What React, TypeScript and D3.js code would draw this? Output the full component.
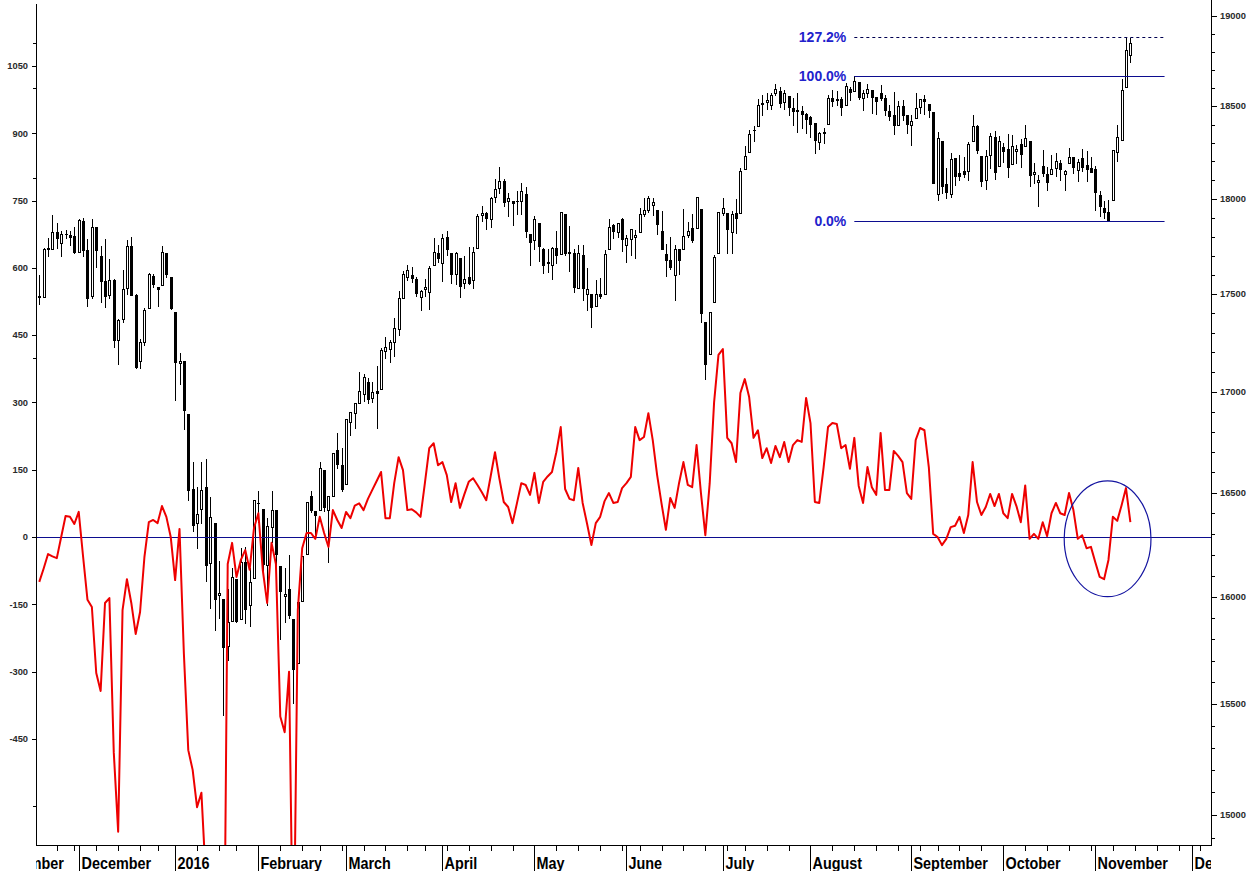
import { useMemo } from "react"
import * as d3 from "d3"

// [open, high, low, close] — Dow Jones daily candles, right (log) axis
type Candle = [number, number, number, number]

const nov2015: Candle[] = [
  [17486, 17600, 17447, 17489], [17486, 17740, 17486, 17737], [17739, 17790, 17700, 17732],
  [17733, 17914, 17733, 17824], [17823, 17870, 17740, 17792], [17765, 17830, 17697, 17813],
  [17813, 17836, 17790, 17813], [17806, 17830, 17754, 17798], [17802, 17850, 17715, 17720],
]
const dec2015: Candle[] = [
  [17719, 17895, 17719, 17888], [17883, 17900, 17700, 17730], [17730, 17789, 17440, 17478],
  [17490, 17895, 17480, 17848], [17848, 17848, 17640, 17730], [17700, 17750, 17460, 17568],
  [17568, 17785, 17435, 17492], [17493, 17680, 17480, 17575], [17575, 17580, 17230, 17265],
  [17265, 17370, 17139, 17368], [17370, 17627, 17357, 17524], [17530, 17784, 17500, 17750],
  [17750, 17796, 17493, 17495], [17494, 17500, 17120, 17128], [17154, 17270, 17120, 17251],
  [17253, 17430, 17239, 17418], [17427, 17608, 17427, 17603], [17593, 17606, 17534, 17552],
  [17535, 17536, 17437, 17528], [17547, 17750, 17547, 17720], [17711, 17714, 17588, 17603],
  [17590, 17590, 17421, 17425],
]
const jan2016: Candle[] = [
  [17405, 17405, 16957, 17149], [17147, 17195, 17038, 17158], [17155, 17155, 16817, 16907],
  [16889, 16889, 16463, 16515], [16519, 16651, 16314, 16346], [16355, 16526, 16232, 16399],
  [16419, 16651, 16355, 16516], [16527, 16668, 16075, 16151], [16159, 16482, 15945, 16380],
  [16355, 16355, 15842, 15988], [16010, 16171, 15900, 16016], [15990, 15990, 15450, 15766],
  [15768, 16038, 15704, 15882], [15885, 16135, 15885, 16094], [16086, 16086, 15880, 15886],
  [15893, 16235, 15893, 16167], [16168, 16237, 15878, 15944], [15960, 16136, 15863, 16069],
  [16090, 16466, 16090, 16466],
]
const feb2016: Candle[] = [
  [16451, 16510, 16359, 16449], [16420, 16420, 16115, 16154], [16153, 16377, 15960, 16337],
  [16332, 16510, 16260, 16417], [16417, 16417, 16125, 16205], [16146, 16146, 15803, 16027],
  [16005, 16136, 15881, 16014], [16035, 16201, 15899, 15914], [15897, 15897, 15503, 15660],
  [15691, 15974, 15691, 15974], [15978, 16196, 15978, 16196], [16202, 16454, 16202, 16454],
  [16483, 16511, 16408, 16414], [16410, 16410, 16283, 16392], [16417, 16650, 16417, 16620],
  [16610, 16610, 16410, 16432], [16418, 16485, 16165, 16485], [16485, 16698, 16485, 16698],
  [16712, 16795, 16623, 16640], [16634, 16718, 16510, 16517],
]
const mar2016: Candle[] = [
  [16545, 16866, 16545, 16865], [16851, 16900, 16783, 16899], [16896, 16944, 16820, 16943],
  [16945, 17099, 16945, 17006], [16991, 17093, 16956, 17074], [17050, 17072, 16945, 16965],
  [16969, 17048, 16947, 17001], [17006, 17131, 16821, 16995], [17014, 17220, 17014, 17213],
  [17207, 17279, 17174, 17229], [17217, 17262, 17150, 17251], [17251, 17376, 17184, 17326],
  [17321, 17515, 17289, 17481], [17481, 17620, 17481, 17602], [17590, 17651, 17570, 17624],
  [17601, 17640, 17560, 17582], [17580, 17590, 17490, 17503], [17485, 17520, 17417, 17516],
  [17526, 17580, 17490, 17536], [17512, 17646, 17422, 17634], [17651, 17790, 17651, 17717],
  [17716, 17755, 17668, 17685],
]
const apr2016: Candle[] = [
  [17661, 17813, 17568, 17793], [17799, 17828, 17701, 17737], [17715, 17715, 17556, 17603],
  [17605, 17717, 17551, 17716], [17688, 17688, 17484, 17542], [17555, 17700, 17530, 17577],
  [17586, 17745, 17553, 17556], [17572, 17744, 17533, 17721], [17741, 17918, 17741, 17908],
  [17912, 17961, 17880, 17926], [17925, 17928, 17842, 17897], [17890, 18009, 17848, 18004],
  [18012, 18104, 17984, 18053], [18059, 18168, 18033, 18096], [18094, 18107, 17963, 17982],
  [17990, 18031, 17909, 18003], [17990, 17990, 17860, 17977], [17987, 18043, 17920, 17990],
  [17990, 18084, 17920, 18041], [18023, 18064, 17796, 17831], [17813, 17814, 17651, 17773],
]
const may2016: Candle[] = [
  [17783, 17911, 17734, 17891], [17870, 17870, 17670, 17750], [17735, 17738, 17609, 17651],
  [17664, 17736, 17615, 17660], [17650, 17744, 17580, 17740], [17742, 17830, 17662, 17705],
  [17710, 17928, 17710, 17928], [17919, 17919, 17703, 17711], [17711, 17858, 17620, 17720],
  [17711, 17734, 17511, 17535], [17531, 17754, 17531, 17711], [17701, 17754, 17467, 17530],
  [17501, 17636, 17418, 17526], [17501, 17501, 17331, 17435], [17437, 17571, 17437, 17500],
  [17501, 17582, 17480, 17492], [17498, 17731, 17498, 17706], [17735, 17891, 17735, 17851],
  [17859, 17867, 17790, 17828], [17826, 17873, 17800, 17873], [17891, 17899, 17724, 17787],
]
const jun2016: Candle[] = [
  [17754, 17809, 17664, 17790], [17789, 17838, 17703, 17838], [17799, 17833, 17689, 17807],
  [17825, 17949, 17822, 17920], [17920, 18003, 17910, 17938], [17938, 18016, 17931, 18005],
  [17969, 18005, 17915, 17985], [17938, 17938, 17812, 17865], [17831, 17935, 17733, 17733],
  [17710, 17762, 17595, 17675], [17679, 17797, 17628, 17640], [17601, 17754, 17471, 17733],
  [17733, 17733, 17602, 17675], [17736, 17946, 17736, 17805], [17807, 17877, 17800, 17830],
  [17844, 17920, 17770, 17780], [17845, 18011, 17845, 18011], [17946, 17946, 17356, 17400],
  [17355, 17355, 17063, 17140], [17190, 17409, 17190, 17409], [17456, 17704, 17456, 17695],
  [17712, 17930, 17711, 17930],
]
const jul2016: Candle[] = [
  [17924, 18002, 17916, 17949], [17924, 17924, 17713, 17841], [17822, 17935, 17713, 17919],
  [17924, 18000, 17819, 17896], [17925, 18167, 17925, 18147], [18158, 18283, 18158, 18227],
  [18253, 18371, 18253, 18347], [18369, 18393, 18309, 18372], [18394, 18537, 18394, 18507],
  [18513, 18560, 18452, 18517], [18521, 18574, 18483, 18534], [18504, 18572, 18484, 18559],
  [18572, 18622, 18559, 18595], [18582, 18605, 18495, 18518], [18525, 18589, 18483, 18571],
  [18555, 18555, 18454, 18493], [18491, 18543, 18398, 18473], [18480, 18573, 18359, 18472],
  [18471, 18499, 18382, 18456], [18455, 18462, 18356, 18432],
]
const aug2016: Candle[] = [
  [18441, 18444, 18334, 18404], [18406, 18406, 18247, 18314], [18305, 18360, 18267, 18355],
  [18358, 18379, 18300, 18353], [18405, 18560, 18405, 18543], [18546, 18590, 18501, 18529],
  [18539, 18583, 18508, 18533], [18542, 18549, 18453, 18495], [18509, 18625, 18509, 18613],
  [18595, 18603, 18532, 18576], [18583, 18668, 18583, 18636], [18632, 18632, 18541, 18552],
  [18546, 18589, 18481, 18574], [18575, 18620, 18553, 18597], [18590, 18590, 18465, 18553],
  [18550, 18550, 18456, 18529], [18572, 18614, 18533, 18547], [18546, 18559, 18452, 18481],
  [18474, 18509, 18425, 18448], [18453, 18578, 18346, 18395], [18398, 18531, 18398, 18503],
  [18499, 18536, 18424, 18454], [18452, 18452, 18353, 18401],
]
const sep2016: Candle[] = [
  [18395, 18450, 18288, 18419], [18437, 18575, 18437, 18492], [18494, 18538, 18461, 18538],
  [18539, 18560, 18455, 18526], [18511, 18511, 18443, 18480], [18469, 18469, 18085, 18085],
  [18028, 18358, 17993, 18326], [18310, 18310, 18031, 18067], [18079, 18163, 18002, 18034],
  [18024, 18245, 18008, 18212], [18217, 18217, 18071, 18124], [18140, 18237, 18100, 18120],
  [18150, 18226, 18119, 18130], [18150, 18306, 18100, 18294], [18313, 18450, 18313, 18392],
  [18392, 18396, 18243, 18261], [18232, 18232, 18070, 18094], [18102, 18263, 18053, 18228],
  [18233, 18354, 18163, 18339], [18330, 18365, 18105, 18144], [18174, 18337, 18174, 18308],
]
const oct2016: Candle[] = [
  [18279, 18301, 18198, 18254], [18267, 18346, 18114, 18168], [18188, 18342, 18188, 18281],
  [18256, 18290, 18191, 18269], [18295, 18319, 18170, 18240], [18282, 18400, 18282, 18329],
  [18308, 18312, 18069, 18129], [18132, 18193, 18085, 18144], [18088, 18127, 17960, 18099],
  [18177, 18262, 18120, 18138], [18135, 18170, 18045, 18087], [18130, 18235, 18130, 18162],
  [18167, 18248, 18120, 18203], [18190, 18210, 18100, 18162], [18135, 18152, 18048, 18146],
  [18190, 18271, 18190, 18223], [18222, 18223, 18138, 18170], [18154, 18215, 18094, 18199],
  [18220, 18266, 18150, 18170], [18180, 18255, 18095, 18161], [18165, 18225, 18141, 18142],
]
const nov2016: Candle[] = [
  [18158, 18174, 17940, 18038], [18020, 18041, 17908, 17960], [17950, 17986, 17900, 17931],
  [17928, 17996, 17883, 17888], [17994, 18262, 17994, 18260], [18251, 18400, 18200, 18332],
  [18317, 18650, 18317, 18590], [18603, 18885, 18603, 18808], [18781, 18875, 18745, 18848],
]

// red oscillator, left axis (one value per candle)
const oscNovDec = [
  -100, -70, -38, -43, -47, 0, 47, 45, 29,
  56, -44, -140, -156, -303, -343, -147, -136, -480, -657, -163, -94, -147, -216, -167, -44, 33, 38, 31, 69, 45, 0,
]
const oscJanMar = [
  -96, 18, -260, -475, -519, -602, -570, -760, -900, -1000, -1100, -1200, -60, -13, -89, -51, -29, -73, 20,
  53, -73, -147, -13, -60, -400, -435, -300, -1000, -163, -25, 9, 9, -4, 45, 9, -22, 60, 38, 20,
  56, 42, 70, 75, 60, 85, 105, 125, 145, 42, 42, 120, 178, 149, 60, 62, 55, 45, 120, 198, 209, 160,
]
const oscAprJun = [
  167, 138, 78, 120, 65, 95, 123, 131, 116, 100, 82, 135, 189, 130, 78, 67, 31, 75, 120, 116, 94,
  143, 76, 123, 135, 145, 189, 245, 107, 85, 82, 154, 76, 30, -18, 31, 45, 80, 98, 76, 78, 109,
  120, 134, 245, 216, 223, 276, 216, 138, 75, 16, 87, 65, 120, 167, 116, 111, 205, 98, 4, 120, 300, 406,
]
const oscJulSep = [
  419, 221, 209, 167, 321, 352, 312, 221, 238, 176, 198, 165, 203, 178, 212, 167, 205, 216, 212, 310,
  254, 78, 76, 156, 245, 254, 252, 198, 205, 152, 221, 114, 76, 156, 111, 94, 232, 105, 105, 192, 181, 167, 98,
  85, 216, 243, 238, 156, 7, 0, -18, -4, 22, 25, 45, 9, 49, 167, 78, 49, 67, 96, 69, 96,
]
const oscOctNov = [
  53, 42, 96, 69, 33, 115, -4, 7, -4, 33, 2, 53, 76, 53, 49, 98, 60, -4, 4, -25, -22,
  -56, -89, -94, -51, 45, 36, 71, 109, 33,
]

const leftTicks = [1050, 900, 750, 600, 450, 300, 150, 0, -150, -300, -450]
const leftMinor = [1100, 1000, 800, 400, -600]
const rightTicks = [15000, 15500, 16000, 16500, 17000, 17500, 18000, 18500, 19000]
const monthNames = ["January", "February", "March", "April", "May", "June", "July", "August",
  "September", "October", "November", "December"]
const holidays = ["2015-11-26", "2015-12-25", "2016-01-01", "2016-01-18", "2016-02-15",
  "2016-03-25", "2016-05-30", "2016-07-04", "2016-09-05"]

// fibonacci swing: Aug 15 high -> Nov 4 low
const fibHigh = 18668
const fibLow = 17883
const fibStart = 186
const fibEnd = 256.8

const W = 1247
const H = 871
const L = 36
const R = 1211
const T = 4
const B = 845

const NAVY = "#0c0c8f"

export default function App() {
  const candles = [...nov2015, ...dec2015, ...jan2016, ...feb2016, ...mar2016, ...apr2016,
    ...may2016, ...jun2016, ...jul2016, ...aug2016, ...sep2016, ...oct2016, ...nov2016]
  const osc = [...oscNovDec, ...oscJanMar, ...oscAprJun, ...oscJulSep, ...oscOctNov]

  const x = d3.scaleLinear().domain([-0.75, 267.4]).range([L, R])
  const yL = d3.scaleLinear().domain([-686.4, 1188]).range([B, T])
  const yR = d3.scaleLog().domain([14867, 19068]).range([B, T])

  // trading calendar, index 0 = 2015-11-17
  const days = useMemo(() => {
    const hol = new Set(holidays)
    const out: Date[] = []
    for (let t = Date.UTC(2015, 10, 2); t <= Date.UTC(2016, 11, 30); t += 86400000) {
      const d = new Date(t)
      const wd = d.getUTCDay()
      if (wd === 0 || wd === 6) continue
      if (t <= Date.UTC(2016, 10, 11) && hol.has(d.toISOString().slice(0, 10))) continue
      out.push(d)
    }
    return out
  }, [])
  const first = days.findIndex((d) => d.toISOString().startsWith("2015-11-17"))

  const ticks: { i: number; major: boolean; label?: string }[] = []
  days.forEach((d, k) => {
    const i = k - first
    const prev = days[k - 1]
    if (!prev || prev.getUTCMonth() !== d.getUTCMonth()) {
      const m = d.getUTCMonth()
      ticks.push({ i, major: true, label: m === 0 ? String(d.getUTCFullYear()) : monthNames[m] })
    } else if (d.getUTCDay() < prev.getUTCDay()) {
      ticks.push({ i, major: false })
    }
  })

  const line = d3
    .line<number>()
    .x((_, i) => x(i))
    .y((v) => yL(v))

  const rightMinor = d3.range(14900, 19001, 100).filter((v) => v % 500 !== 0)
  const fib127 = fibLow + 1.272 * (fibHigh - fibLow)

  const ellI = 243.8
  const ellV = -4
  const ell = {
    cx: x(ellI),
    cy: yL(ellV),
    rx: x(ellI + 9.9) - x(ellI),
    ry: yL(ellV) - yL(ellV + 129),
  }

  const tickFont = { fontFamily: "Arial, 'Liberation Sans', sans-serif", fontSize: 9.3, fontWeight: 700 }

  return (
    <svg width={W} height={H} style={{ position: "absolute", left: 0, top: 0, background: "#fff" }}>
      <defs>
        <clipPath id="plot">
          <rect x={L} y={T} width={R - L} height={B - T} />
        </clipPath>
        <clipPath id="labels">
          <rect x={L} y={B} width={R - L} height={H - B} />
        </clipPath>
      </defs>
      <rect width={W} height={H} fill="#fff" />

      {/* candles */}
      <g clipPath="url(#plot)">
        {candles.map(([o, h, l, c], i) => {
          const r = Math.round(x(i))
          const top = Math.round(yR(Math.max(o, c)))
          const bot = Math.round(yR(Math.min(o, c)))
          const up = c >= o
          return (
            <g key={i}>
              <line x1={r + 0.5} x2={r + 0.5} y1={Math.round(yR(h))} y2={Math.round(yR(l)) + 1} stroke="#000" strokeWidth={1} />
              {up ? (
                bot - top < 2 ? (
                  <rect x={r - 1} y={top} width={3} height={Math.max(1, bot - top + 1)} fill="#000" />
                ) : (
                  <rect x={r - 0.5} y={top + 0.5} width={2} height={bot - top} fill="#fff" stroke="#000" strokeWidth={1} />
                )
              ) : (
                <rect x={r - 1} y={top} width={3} height={Math.max(1, bot - top + 1)} fill="#000" />
              )}
            </g>
          )
        })}
      </g>

      {/* zero line */}
      <line x1={L} x2={R} y1={Math.round(yL(0)) + 0.5} y2={Math.round(yL(0)) + 0.5} stroke={NAVY} strokeWidth={1} />

      {/* oscillator */}
      <g clipPath="url(#plot)">
        <path d={line(osc) ?? ""} fill="none" stroke="#ee0000" strokeWidth={2} strokeLinejoin="round" />
      </g>

      {/* fibonacci levels */}
      <line x1={x(fibStart)} x2={x(fibEnd)} y1={Math.round(yR(fib127)) + 0.5} y2={Math.round(yR(fib127)) + 0.5}
        stroke="#000050" strokeWidth={1} strokeDasharray="3,3" />
      <line x1={x(fibStart)} x2={x(fibEnd)} y1={Math.round(yR(fibHigh)) + 0.5} y2={Math.round(yR(fibHigh)) + 0.5}
        stroke={NAVY} strokeWidth={1} />
      <line x1={x(fibStart)} x2={x(fibEnd)} y1={Math.round(yR(fibLow)) + 0.5} y2={Math.round(yR(fibLow)) + 0.5}
        stroke={NAVY} strokeWidth={1} />
      {[
        { v: fib127, t: "127.2%" },
        { v: fibHigh, t: "100.0%" },
        { v: fibLow, t: "0.0%" },
      ].map((f) => (
        <text key={f.t} x={x(fibStart) - 8} y={yR(f.v) + 5} textAnchor="end" fill="#2222cc"
          style={{ fontFamily: "Arial, 'Liberation Sans', sans-serif", fontSize: 14, fontWeight: 700 }}>
          {f.t}
        </text>
      ))}

      {/* circled area */}
      <ellipse cx={ell.cx} cy={ell.cy} rx={ell.rx} ry={ell.ry} fill="none" stroke="#1414a0" strokeWidth={1.2} />

      {/* left axis */}
      <line x1={L + 0.5} x2={L + 0.5} y1={T} y2={B + 1} stroke="#000" />
      {leftTicks.map((v) => (
        <g key={v}>
          <line x1={L - 4} x2={L} y1={Math.round(yL(v)) + 0.5} y2={Math.round(yL(v)) + 0.5} stroke="#000" />
          <text x={L - 8} y={yL(v) + 3.3} textAnchor="end" fill="#2a2a2a" style={tickFont}>{v}</text>
        </g>
      ))}
      {leftMinor.map((v) => (
        <line key={v} x1={L - 3} x2={L} y1={Math.round(yL(v)) + 0.5} y2={Math.round(yL(v)) + 0.5} stroke="#000" />
      ))}

      {/* right axis */}
      <line x1={R + 0.5} x2={R + 0.5} y1={0} y2={B + 1} stroke="#000" />
      {rightTicks.map((v) => (
        <g key={v}>
          <line x1={R} x2={R + 6} y1={Math.round(yR(v)) + 0.5} y2={Math.round(yR(v)) + 0.5} stroke="#000" />
          <text x={R + 9} y={yR(v) + 3.3} fill="#2a2a2a" style={tickFont}>{v}</text>
        </g>
      ))}
      {rightMinor.map((v) => (
        <line key={v} x1={R} x2={R + 4} y1={Math.round(yR(v)) + 0.5} y2={Math.round(yR(v)) + 0.5} stroke="#000" />
      ))}

      {/* time axis */}
      <line x1={L} x2={R + 1} y1={B + 0.5} y2={B + 0.5} stroke="#000" />
      {ticks
        .filter((t) => x(t.i) >= L && x(t.i) <= R)
        .map((t) => {
          const px = Math.round(x(t.i)) + 0.5
          return <line key={"t" + t.i} x1={px} x2={px} y1={B} y2={t.major ? H : B + 6} stroke="#000" />
        })}
      <g clipPath="url(#labels)">
        {ticks
          .filter((t) => t.major)
          .map((t) => (
            <text key={"m" + t.i} transform={`translate(${Math.round(x(t.i)) + 2.5},${B + 24}) scale(0.9,1)`}
              fill="#000" style={{ fontFamily: "Arial, 'Liberation Sans', sans-serif", fontSize: 16, fontWeight: 700 }}>
              {t.label}
            </text>
          ))}
      </g>
    </svg>
  )
}
